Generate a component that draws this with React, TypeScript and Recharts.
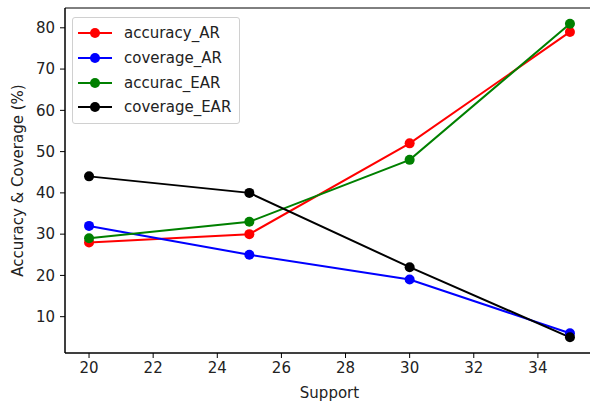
import React from 'react';
import {
    LineChart,
    Line,
    XAxis,
    YAxis,
    ReferenceArea
} from 'recharts';

const support = [20, 25, 30, 35];
const accuracyAR = [28, 30, 52, 79];
const coverageAR = [32, 25, 19, 6];
const accuracEAR = [29, 33, 48, 81];
const coverageEAR = [44, 40, 22, 5];

const xTicks = [20, 22, 24, 26, 28, 30, 32, 34];
const yTicks = [10, 20, 30, 40, 50, 60, 70, 80];

const SERIES = [
    { key: 'accuracy_AR', color: '#ff0000' },
    { key: 'coverage_AR', color: '#0000ff' },
    { key: 'accurac_EAR', color: '#008000' },
    { key: 'coverage_EAR', color: '#000000' }
];

const chartData = support.map((s, i) => ({
    support: s,
    accuracy_AR: accuracyAR[i],
    coverage_AR: coverageAR[i],
    accurac_EAR: accuracEAR[i],
    coverage_EAR: coverageEAR[i]
}));

const FONT = '"DejaVu Sans", sans-serif';
const FS = 15;

// legend drawn as an overlay so it doesn't take space from the plot
function LegendBox() {
    return (
        <div
            style={{
                position: 'absolute',
                left: 72,
                top: 17,
                width: 168,
                boxSizing: 'border-box',
                border: '1px solid #d0d0d0',
                borderRadius: 3,
                background: 'rgba(255,255,255,0.8)',
                padding: '3px 0 3px 4px',
                fontFamily: FONT,
                fontSize: FS,
                color: '#222'
            }}
        >
            {SERIES.map((s) => (
                <div key={s.key} style={{ display: 'flex', alignItems: 'center', height: 24.7, whiteSpace: 'nowrap' }}>
                    <svg width={36} height={12} style={{ marginRight: 11, flexShrink: 0 }}>
                        <line x1={1} y1={6} x2={35} y2={6} stroke={s.color} strokeWidth={2} />
                        <circle cx={18} cy={6} r={5} fill={s.color} />
                    </svg>
                    <span>{s.key}</span>
                </div>
            ))}
        </div>
    );
}

export default function App() {
    return (
        <div style={{ position: 'absolute', left: 0, top: 0, width: 590, height: 403, overflow: 'hidden', background: '#fff' }}>
            <LineChart
                width={600}
                height={403}
                data={chartData}
                margin={{ top: 8, right: 6, bottom: 0, left: 0 }}
                style={{ fontFamily: FONT }}
            >
                <ReferenceArea
                    x1={19.25}
                    x2={35.75}
                    y1={1.2}
                    y2={84.8}
                    fill="none"
                    stroke="#000"
                    strokeWidth={1}
                    ifOverflow="visible"
                />
                <XAxis
                    dataKey="support"
                    type="number"
                    domain={[19.25, 35.75]}
                    ticks={xTicks}
                    height={50}
                    axisLine={{ stroke: '#000' }}
                    tickLine={{ stroke: '#000' }}
                    tickSize={5}
                    tickMargin={4}
                    tick={{ fill: '#222', fontSize: FS }}
                    label={{ value: 'Support', position: 'insideBottom', offset: 5, fill: '#222', fontSize: FS }}
                />
                <YAxis
                    type="number"
                    domain={[1.2, 84.8]}
                    ticks={yTicks}
                    width={65}
                    axisLine={{ stroke: '#000' }}
                    tickLine={{ stroke: '#000' }}
                    tickSize={5}
                    tickMargin={5}
                    tick={{ fill: '#222', fontSize: FS }}
                    label={{
                        content: ({ viewBox }: any) => {
                            const cy = viewBox.y + viewBox.height / 2;
                            return (
                                <text
                                    x={18}
                                    y={cy}
                                    transform={`rotate(-90, 18, ${cy})`}
                                    textAnchor="middle"
                                    dominantBaseline="central"
                                    fill="#222"
                                    fontSize={FS}
                                >
                                    Accuracy &amp; Coverage (%)
                                </text>
                            );
                        }
                    }}
                />
                {SERIES.map((s) => (
                    <Line
                        key={s.key}
                        dataKey={s.key}
                        stroke={s.color}
                        strokeWidth={2}
                        dot={{ r: 5, fill: s.color, stroke: s.color, strokeWidth: 0 }}
                        activeDot={false}
                        isAnimationActive={false}
                    />
                ))}
            </LineChart>
            <LegendBox />
        </div>
    );
}
